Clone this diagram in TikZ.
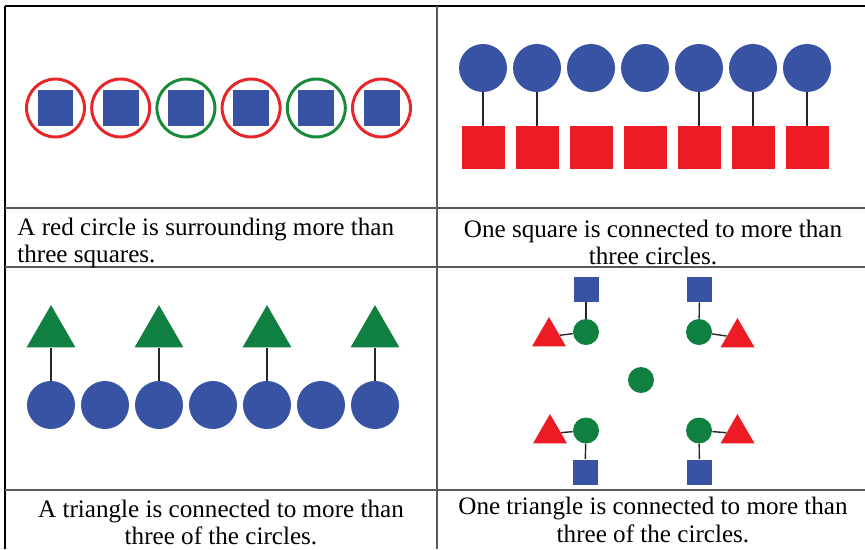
\documentclass[tikz,border=0pt]{standalone}
\usepackage{fontspec}
\setmainfont{Liberation Serif}
\usepackage{tikz}
\usetikzlibrary{shapes.geometric,positioning}
\definecolor{shapeblue}{RGB}{56,83,164}
\definecolor{shapered}{RGB}{237,28,36}
\definecolor{shapegreen}{RGB}{16,128,64}
\definecolor{ringred}{RGB}{232,38,42}
\definecolor{ringgreen}{RGB}{26,138,58}
\definecolor{rulegray}{RGB}{90,90,90}

\begin{document}
\begin{tikzpicture}[x=0.02cm,y=-0.02cm,
    cellline/.style={line width=1pt,color=rulegray},
    ring/.style={circle,draw,line width=1.7pt,minimum size=1.16cm,inner sep=0pt},
    innersq/.style={rectangle,fill=shapeblue,minimum size=0.72cm,inner sep=0pt},
    redsq/.style={rectangle,fill=shapered,minimum size=0.86cm,inner sep=0pt},
    tinysq/.style={rectangle,fill=shapeblue,minimum size=0.5cm,inner sep=0pt},
    bigdot/.style={circle,fill=shapeblue,minimum size=0.96cm,inner sep=0pt},
    greendot/.style={circle,fill=shapegreen,minimum size=0.52cm,inner sep=0pt},
    bigtri/.style={regular polygon,regular polygon sides=3,fill=shapegreen,minimum size=1.13cm,inner sep=0pt},
    smalltri/.style={regular polygon,regular polygon sides=3,fill=shapered,minimum size=0.785cm,inner sep=0pt},
    link/.style={line width=0.8pt,color=black!85},
    caption/.style={font=\fontsize{14.3}{15.6}\selectfont,inner sep=0pt}]
\useasboundingbox (0,0) rectangle (865,549);

% table rules
\draw [line width=0.6pt,color=black] (5,6) -- (865,6);
\draw [line width=0.6pt,color=black] (5,6) -- (5,549);
\draw [cellline] (437,6) -- (437,549);
\draw [cellline] (5,208) -- (865,208);
\draw [cellline] (5,267) -- (865,267);
\draw [cellline] (5,490) -- (865,490);

% top left: squares in rings
\node [ring,draw=ringred]   (r1) at (55.5,108) {};
\node [ring,draw=ringred]   (r2) at (120.7,108) {};
\node [ring,draw=ringgreen] (r3) at (185.9,108) {};
\node [ring,draw=ringred]   (r4) at (251.1,108) {};
\node [ring,draw=ringgreen] (r5) at (316.3,108) {};
\node [ring,draw=ringred]   (r6) at (381.5,108) {};
\node [innersq] (q1) at (r1) {};
\node [innersq] (q2) at (r2) {};
\node [innersq] (q3) at (r3) {};
\node [innersq] (q4) at (r4) {};
\node [innersq] (q5) at (r5) {};
\node [innersq] (q6) at (r6) {};

% top right: circles over squares
\node [bigdot] (c1) at (483,68) {};
\node [bigdot] (c2) at (537,68) {};
\node [bigdot] (c3) at (591,68) {};
\node [bigdot] (c4) at (645,68) {};
\node [bigdot] (c5) at (699,68) {};
\node [bigdot] (c6) at (753,68) {};
\node [bigdot] (c7) at (807,68) {};
\node [redsq] (s1) at (483,147.5) {};
\node [redsq] (s2) at (537,147.5) {};
\node [redsq] (s3) at (591,147.5) {};
\node [redsq] (s4) at (645,147.5) {};
\node [redsq] (s5) at (699,147.5) {};
\node [redsq] (s6) at (753,147.5) {};
\node [redsq] (s7) at (807,147.5) {};
\draw [link] (c1) -- (s1);
\draw [link] (c2) -- (s2);
\draw [link] (c5) -- (s5);
\draw [link] (c6) -- (s6);
\draw [link] (c7) -- (s7);

% bottom left: triangles over circles
\node [bigdot] (b1) at (51,405) {};
\node [bigdot] (b2) at (105,405) {};
\node [bigdot] (b3) at (159,405) {};
\node [bigdot] (b4) at (213,405) {};
\node [bigdot] (b5) at (267,405) {};
\node [bigdot] (b6) at (321,405) {};
\node [bigdot] (b7) at (375,405) {};
\node [bigtri] (t1) at (51,333.3) {};
\node [bigtri] (t3) at (159,333.3) {};
\node [bigtri] (t5) at (267,333.3) {};
\node [bigtri] (t7) at (375,333.3) {};
\draw [link] (t1) -- (b1);
\draw [link] (t3) -- (b3);
\draw [link] (t5) -- (b5);
\draw [link] (t7) -- (b7);

% bottom right: four little groups round one dot
\node [greendot] (g0) at (641,380) {};
\node [greendot] (gnw) at (586,332) {};
\node [greendot] (gne) at (699,332) {};
\node [greendot] (gsw) at (586,430.5) {};
\node [greendot] (gse) at (699,430.5) {};
\node [tinysq] (qnw) at (586,289.5) {};
\node [tinysq] (qne) at (699.5,289.5) {};
\node [tinysq] (qsw) at (585,472) {};
\node [tinysq] (qse) at (699.5,472) {};
\node [smalltri] (tnw) at (549,336.6) {};
\node [smalltri] (tne) at (737.5,337.6) {};
\node [smalltri] (tsw) at (550,433.6) {};
\node [smalltri] (tse) at (737.5,433.6) {};
\draw [link] (qnw) -- (gnw);
\draw [link] (qne) -- (gne);
\draw [link] (qsw) -- (gsw);
\draw [link] (qse) -- (gse);
\draw [link] (tnw) -- (gnw);
\draw [link] (tne) -- (gne);
\draw [link] (tsw) -- (gsw);
\draw [link] (tse) -- (gse);

% captions
\node [caption,anchor=north west,align=left] (capA) at (17,217.3) {A red circle is surrounding more than\\three squares.};
\node [caption,anchor=north,align=center] (capB) at (653,219.5) {One square is connected to more than\\three circles.};
\node [caption,anchor=north,align=center] (capC) at (221,499.5) {A triangle is connected to more than\\three of the circles.};
\node [caption,anchor=north,align=center] (capD) at (653,497) {One triangle is connected to more than\\three of the circles.};

\end{tikzpicture}
\end{document}
